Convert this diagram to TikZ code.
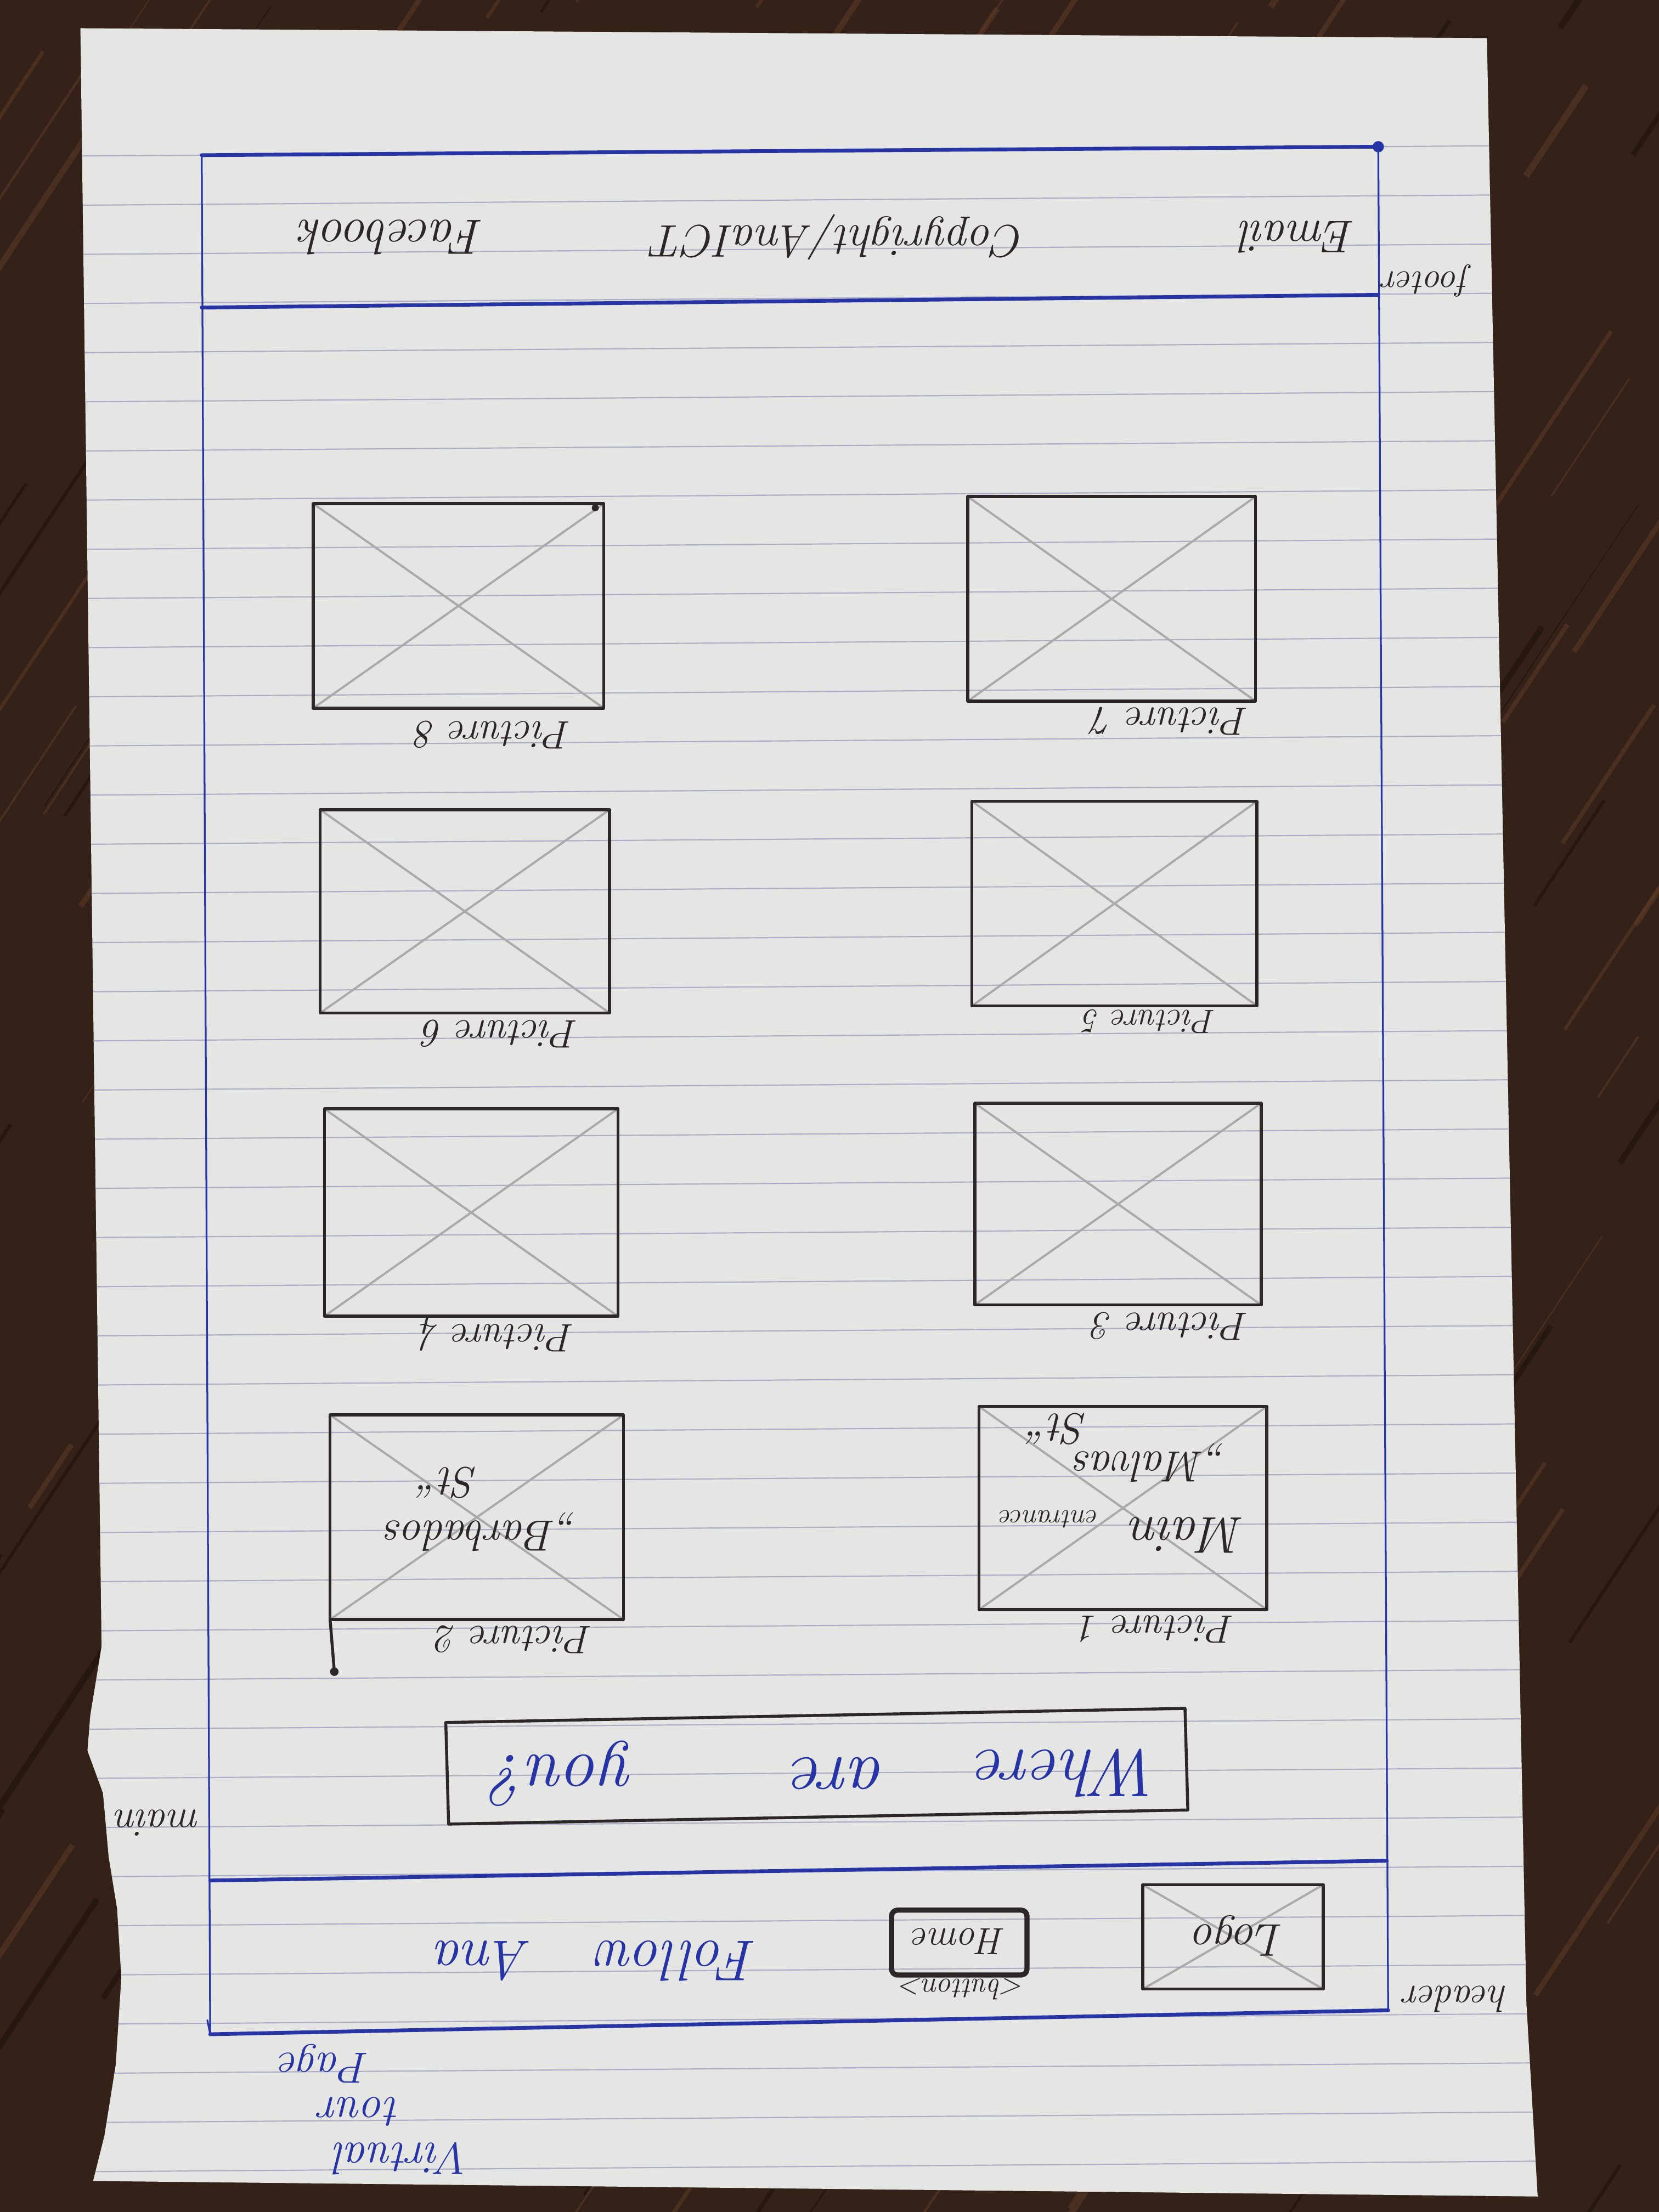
\documentclass[tikz,border=0pt]{standalone}
\usetikzlibrary{calc}
\definecolor{wood}{RGB}{52,33,24}
\definecolor{woodlight}{RGB}{96,62,42}
\definecolor{wooddark}{RGB}{30,18,13}
\definecolor{paper}{RGB}{229,229,227}
\definecolor{ruling}{RGB}{172,174,200}
\definecolor{ink}{RGB}{38,52,165}
\definecolor{pen}{RGB}{44,38,38}
\definecolor{pencil}{RGB}{170,170,170}
\newcommand\hsz[1]{\fontsize{#1}{#1}\selectfont\itshape}
% sheet outline (torn on the left side)
\def\sheet{(57,20) -- (1054,27) -- (1082,1420) -- (1090,1557) -- (66,1546) -- (74,1514) -- (82,1464) -- (86,1402) -- (83,1353) -- (77,1316) -- (73,1271) -- (62,1241) -- (64,1216) -- (72,1167) -- cycle}
% wireframe image placeholder: box with a pencil cross
\newcommand\imgbox[4]{%
  \draw[cross] (#1,#2) -- (#3,#4) (#1,#4) -- (#3,#2);
  \draw[picbox] (#1,#2) rectangle (#3,#4);}
\begin{document}
\begin{tikzpicture}[x=0.025cm,y=-0.025cm,
  frameh/.style={draw=ink,line width=1.9pt,line cap=round},
  framev/.style={draw=ink,line width=0.9pt,line cap=round},
  picbox/.style={draw=pen,line width=1.5pt,line join=round},
  cross/.style={draw=pencil,line width=1.1pt},
  ruleline/.style={draw=ruling,line width=0.6pt},
  hand/.style={rotate=180,inner sep=0pt,text=pen},
  bluehand/.style={hand,text=ink}]
\useasboundingbox (0,0) rectangle (1176,1568);

% table top
\fill[wood] (0,0) rectangle (1176,1568);
\pgfmathsetseed{42}
\foreach \i in {1,...,170}{
  \pgfmathsetmacro\gx{rnd*1500-250}
  \pgfmathsetmacro\gy{rnd*1900-150}
  \pgfmathsetmacro\gl{40+rnd*180}
  \pgfmathsetmacro\gw{0.5+rnd*3}
  \draw[woodlight,opacity=0.5,line width=\gw pt] (\gx,\gy) -- ++(0.55*\gl,-0.83*\gl);
}
\foreach \i in {1,...,90}{
  \pgfmathsetmacro\gx{rnd*1500-250}
  \pgfmathsetmacro\gy{rnd*1900-150}
  \pgfmathsetmacro\gl{40+rnd*180}
  \pgfmathsetmacro\gw{0.5+rnd*3}
  \draw[wooddark,opacity=0.6,line width=\gw pt] (\gx,\gy) -- ++(0.55*\gl,-0.83*\gl);
}

% ruled sheet
\fill[paper] \sheet;
\begin{scope}
  \clip \sheet;
  \foreach \k in {0,...,41}
    \draw[ruleline] (0,{111+34.85*\k}) -- (1176,{102.5+34.85*\k});
\end{scope}

% page frame: footer, main, header
\draw[framev] (143,110) -- (149,1442) -- ++(-2,-10);
\draw[framev] (977,104) -- (984,1425);
\draw[frameh] (143,110) -- (977,104);
\draw[frameh] (143,218) -- (977,209);
\draw[frameh] (149,1333) -- (983,1319);
\draw[frameh] (149,1442) -- (984,1425);
\fill[ink] (977,104) circle (4);

% section labels
\node[hand,font=\hsz{18}] (lfooter) at (1011,199) {footer};
\node[hand,font=\hsz{19}] (lheader) at (1032,1417) {header};
\node[hand,font=\hsz{20}] (lmain) at (112,1292) {main};

% footer content
\node[hand,font=\hsz{23}] (email) at (920,168) {Email};
\node[hand,font=\hsz{23}] (copy) at (595,168) {Copyright/AnaICT};
\node[hand,font=\hsz{25}] (fb) at (278,168) {Facebook};

% picture grid
\imgbox{686}{352}{890}{497}
\imgbox{222}{357}{428}{502}
\imgbox{689}{568}{891}{713}
\imgbox{227}{574}{432}{718}
\imgbox{691}{782}{894}{925}
\imgbox{230}{786}{438}{933}
\imgbox{694}{997}{898}{1141}
\imgbox{234}{1003}{442}{1148}
\fill[pen] (422,360) circle (2.5);
\draw[pen,line width=1.5pt] (234,1148) -- (237,1185);
\fill[pen] (237,1185) circle (3);

\node[hand,font=\hsz{20}] (p7) at (830,511) {Picture 7};
\node[hand,font=\hsz{20}] (p8) at (350,521) {Picture 8};
\node[hand,font=\hsz{17}] (p5) at (815,724) {Picture 5};
\node[hand,font=\hsz{20}] (p6) at (355,733) {Picture 6};
\node[hand,font=\hsz{20}] (p3) at (830,940) {Picture 3};
\node[hand,font=\hsz{20}] (p4) at (352,946) {Picture 4};
\node[hand,font=\hsz{20}] (p1) at (820,1155) {Picture 1};
\node[hand,font=\hsz{20}] (p2) at (365,1162) {Picture 2};

% captions written inside pictures 1 and 2
\node[hand,font=\hsz{26}] (main1) at (842,1088) {Main};
\node[hand,font=\hsz{14}] (entr1) at (744,1077) {entrance};
\node[hand,font=\hsz{22}] (malv1) at (815,1037) {\char"201E Malvas};
\node[hand,font=\hsz{22}] (st1) at (750,1013) {St\char"201C};
\node[hand,font=\hsz{22}] (barb2) at (341,1086) {\char"201E Barbados};
\node[hand,font=\hsz{22}] (st2) at (318,1051) {St\char"201C};

% search prompt
\draw[picbox] (316,1221) -- (840,1211) -- (842,1283) -- (318,1293) -- cycle;
\node[bluehand,font=\hsz{34}] (where) at (758,1257) {Where};
\node[bluehand,font=\hsz{36}] (are) at (595,1257) {are};
\node[bluehand,font=\hsz{36}] (you) at (400,1257) {you?};

% header content
\imgbox{810}{1336}{938}{1410}
\node[hand,font=\hsz{23}] (logo) at (878,1372) {Logo};
\draw[pen,line width=2.6pt,rounded corners=3] (632,1354) rectangle (728,1400);
\node[hand,font=\hsz{19}] (home) at (680,1376) {Home};
\node[hand,font=\hsz{15}] (btn) at (682,1410) {<button>};
\node[bluehand,font=\hsz{29}] (follow) at (480,1390) {Follow};
\node[bluehand,font=\hsz{28}] (ana) at (343,1390) {Ana};

% page title below the frame
\node[bluehand,font=\hsz{22}] (vpage) at (230,1463) {Page};
\node[bluehand,font=\hsz{23}] (vtour) at (255,1497) {tour};
\node[bluehand,font=\hsz{23}] (vvirt) at (286,1530) {Virtual};
\end{tikzpicture}
\end{document}
